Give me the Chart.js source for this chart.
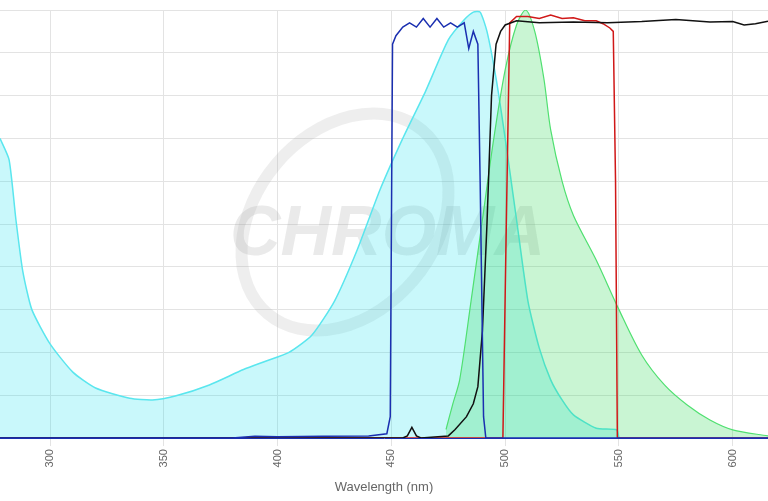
<!DOCTYPE html>
<html><head><meta charset="utf-8">
<script src="https://cdn.jsdelivr.net/npm/chart.js@4/dist/chart.umd.min.js"></script>
<style>html,body{margin:0;padding:0;background:#fff}#w{width:768px;height:501px}</style>
</head><body><div id="w"><canvas id="c"></canvas></div>
<script>
const exNm  = [278,282,285,288,292,300,310,320,335,345,355,370,385,395,405,415,425,435,445,455,465,475,482,486,489,492,496,500,505,510,515,520,525,530,540,549,550];
const exVal = [70,65,51,39,30,22,15.4,11.7,9.3,8.9,9.8,12.4,16,18,20,24,32,44,58,70,81,93,97.7,99.5,99.5,95,84,70,51,32,21,13.6,8.9,5.4,2.3,1.9,0];
const emNm  = [474,477,480,485,490,495,500,505,509,513,517,520,525,530,540,550,560,570,580,590,600,615.5];
const emVal = [2,8,13.6,32,51,70,86,96.5,100,95,84,72,60,52,41.6,30,19.4,12.4,7.7,4.2,1.9,0.5];
const bxNm  = [278,380,390,400,420,440,448,449.5,450.5,452,455,458,461,464,467,470,473,476,479,482,484,486,488,489,490.5,491.5,615.5];
const bxVal = [0,0,0.4,0.3,0.4,0.5,1,5,92,94,96,97,96,98,96,98,96,97,96,97,91,95,92,60,5,0,0];
const dcNm  = [278,455,457,459,461,463,475,478,483,486,488,490,492,494,496,498,500,505,515,530,545,560,575,590,600,605,610,615.5];
const dcVal = [0,0,0.5,2.5,0.5,0,0.5,2,5,8,12,25,50,80,92,95,96.5,97.5,97,97.2,97,97.3,97.8,97.2,97.3,96.5,96.8,97.4];
const emfNm  = [278,499,500.5,502,505,510,515,520,525,530,535,540,543,546,547.5,548.5,549.3,615.5];
const emfVal = [0,0,50,97,98.5,98.5,98,98.8,98,98.2,97.5,97.5,96.8,95.8,95,60,0,0];
const xTicks = [300,350,400,450,500,550,600];
const pts=(xs,ys)=>xs.map((x,i)=>({x,y:ys[i]}));
const wm={id:'wm',beforeDatasetsDraw(ch){const c=ch.ctx;c.save();c.fillStyle='rgba(160,160,160,0.22)';c.font='italic bold 70px "Liberation Sans"';c.fillText('CHROMA',230,255);c.strokeStyle='rgba(160,160,160,0.18)';c.lineWidth=12;c.beginPath();c.ellipse(345,222,90,120,0.7,0,Math.PI*2);c.stroke();c.restore();}};
new Chart(document.getElementById('c'),{type:'scatter',
data:{datasets:[
{data:pts(bxNm,bxVal),showLine:true,borderColor:'#1a2fb0',borderWidth:1.5,pointRadius:0,fill:false},
{data:pts(dcNm,dcVal),showLine:true,borderColor:'#111',borderWidth:1.5,pointRadius:0,fill:false},
{data:pts(emfNm,emfVal),showLine:true,borderColor:'#d01818',borderWidth:1.5,pointRadius:0,fill:false},
{data:pts(emNm,emVal),showLine:true,borderColor:'#4fe070',backgroundColor:'rgba(40,215,80,0.25)',borderWidth:1.2,pointRadius:0,fill:'origin',tension:0.3},
{data:pts(exNm,exVal),showLine:true,borderColor:'#5ae6ee',backgroundColor:'rgba(30,225,240,0.24)',borderWidth:1.5,pointRadius:0,fill:'origin',tension:0.2}
]},
options:{responsive:true,maintainAspectRatio:false,animation:false,
layout:{padding:{top:10,left:0,right:0,bottom:2}},
plugins:{legend:{display:false},tooltip:{enabled:false}},
scales:{
x:{type:'linear',min:278,max:615.5,afterBuildTicks:a=>{a.ticks=xTicks.map(v=>({value:v}));},
 grid:{color:'#e3e3e3',drawTicks:true,tickLength:8},border:{color:'#1a2fb0'},
 ticks:{color:'#666',font:{size:11},maxRotation:90,minRotation:90},
 title:{display:true,text:'Wavelength (nm)',color:'#666',font:{size:13},padding:{top:9}}},
y:{min:0,max:100,ticks:{display:false,stepSize:10},grid:{color:'#e3e3e3',drawTicks:false},border:{display:false}}
}}, plugins:[wm]});
</script></body></html>
